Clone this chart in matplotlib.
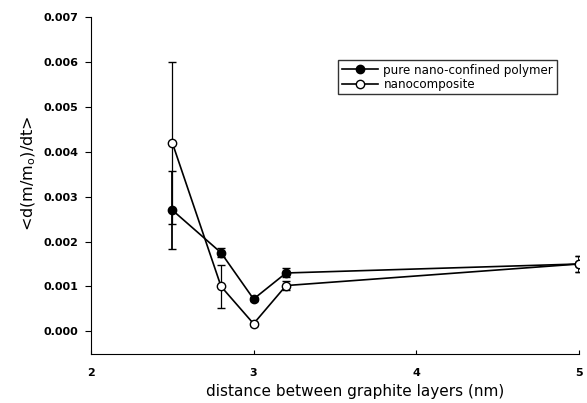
import matplotlib.pyplot as plt

plt.rcParams['font.family'] = ['DejaVu Sans']

# layer spacing (nm) and mean mass-loss rate for each material
spacing = [2.5, 2.8, 3.0, 3.2, 5.0]
pure_rate = [0.0027, 0.00175, 0.00072, 0.0013, 0.0015]
pure_err = [0.00087, 0.0001, 0.00004, 0.0001, 0.00018]
comp_rate = [0.0042, 0.0010, 0.00017, 0.00102, 0.0015]
comp_err = [0.0018, 0.00047, 0.00004, 0.0001, 0.00018]

yticks = [0.000, 0.001, 0.002, 0.003, 0.004, 0.005, 0.006, 0.007]
xticks = [2, 3, 4, 5]

fig = plt.figure(figsize=(5.87, 4.03), dpi=100)
ax = fig.add_axes([0.155, 0.122, 0.831, 0.836])

# error bars first, then the connected series on top (legend shows no bars)
ax.errorbar(spacing, pure_rate, yerr=pure_err, fmt='none', ecolor='black',
            elinewidth=1.3, capsize=3)
ax.errorbar(spacing, comp_rate, yerr=comp_err, fmt='none', ecolor='black',
            elinewidth=0.9, capsize=3)
ax.plot(spacing, pure_rate, color='black', marker='o', markersize=6,
        markerfacecolor='black', linewidth=1.2,
        label='pure nano-confined polymer')
ax.plot(spacing, comp_rate, color='black', marker='o', markersize=6,
        markerfacecolor='white', linewidth=1.2, label='nanocomposite')

ax.set_xlim(2, 5)
ax.set_ylim(-0.0005, 0.007)
ax.set_xticks(xticks)
ax.set_xticklabels([str(t) for t in xticks], fontweight='bold', fontsize=8)
ax.set_yticks(yticks)
ax.set_yticklabels([f'{t:.3f}' for t in yticks], fontweight='bold', fontsize=8)
ax.tick_params(axis='x', direction='in', length=3, pad=10)
ax.tick_params(axis='y', direction='out', length=4, pad=5)
ax.spines[['top', 'right']].set_visible(False)

ax.set_xlabel('distance between graphite layers (nm)', fontsize=11)
ax.xaxis.set_label_coords(0.541, -0.09)
ax.set_ylabel(r'<d(m/m$_\mathregular{o}$)/dt>', fontsize=11.5)
ax.yaxis.set_label_coords(-0.109, 0.537)

leg = ax.legend(loc='upper right', bbox_to_anchor=(0.955, 0.872),
                borderaxespad=0, fontsize=8.6, frameon=True, fancybox=False,
                edgecolor='black', handlelength=3.0, borderpad=0.3,
                labelspacing=0.1, handletextpad=0.5)
leg.get_frame().set_linewidth(1.0)

fig.savefig('out.png', dpi=100)
